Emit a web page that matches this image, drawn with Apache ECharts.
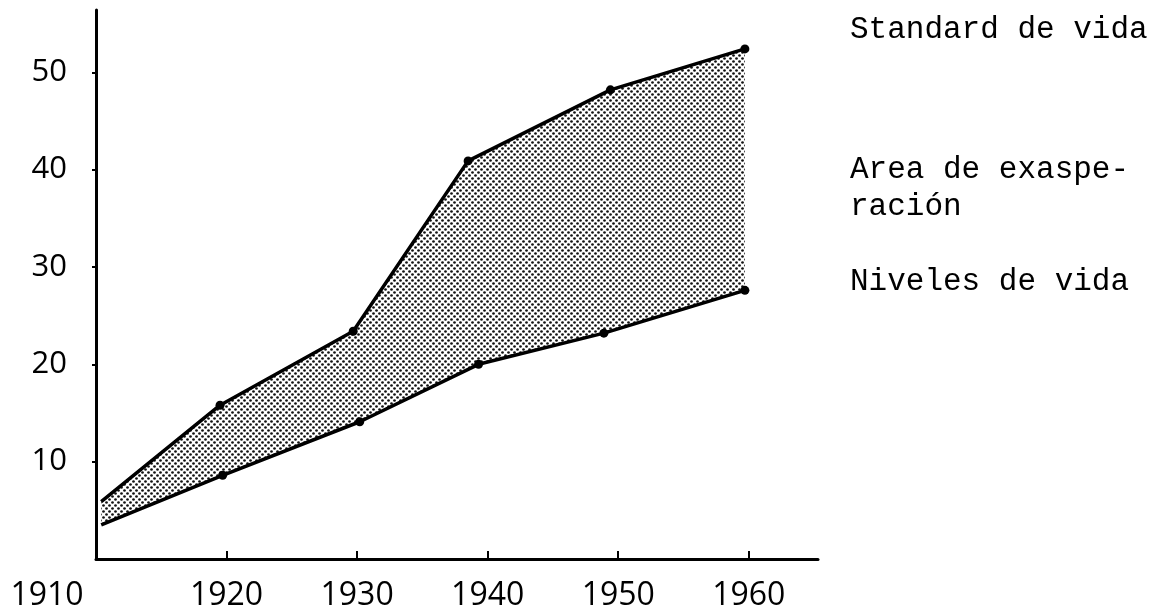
<!DOCTYPE html>
<html>
<head>
<meta charset="utf-8">
<script src="https://cdn.jsdelivr.net/npm/echarts@6/dist/echarts.min.js"></script>
<style>
html,body{margin:0;padding:0;background:#fff;}
#chart{width:1162px;height:615px;}
</style>
</head>
<body>
<div id="chart"></div>
<script>
// ---- data ----
const stdYears   = [1910.4, 1919.5, 1929.7, 1938.5, 1949.4, 1959.7];
const stdValues  = [5.9, 15.8, 23.4, 40.9, 48.2, 52.4];
const nivYears   = [1910.4, 1919.7, 1930.2, 1939.3, 1948.9, 1959.7];
const nivValues  = [3.5, 8.6, 14.1, 20.0, 23.2, 27.6];
const xTickLabels = [1910, 1920, 1930, 1940, 1950, 1960];
const xTickMarks  = [1920, 1930, 1940, 1950, 1960];
const yTickLabels = [10, 20, 30, 40, 50];
const seriesNames = ['Standard de vida', 'Area de exaspe-\nración', 'Niveles de vida'];

const stdData = stdYears.map((y, i) => [y, stdValues[i]]);
const nivData = nivYears.map((y, i) => [y, nivValues[i]]);

// stipple pattern
const pat = document.createElement('canvas');
pat.width = 6; pat.height = 6;
const pc = pat.getContext('2d');
pc.fillStyle = '#111';
[[1.5,1.5],[4.5,4.5]].forEach(p => { pc.beginPath(); pc.arc(p[0], p[1], 1.35, 0, Math.PI*2); pc.fill(); });

const chart = echarts.init(document.getElementById('chart'));
const mono = '"Liberation Mono", "DejaVu Sans Mono", monospace';
const sans = '"Open Sans", "DejaVu Sans", sans-serif';

chart.setOption({
  animation: false,
  backgroundColor: '#ffffff',
  grid: { left: 96, right: 344, top: 10, bottom: 56, containLabel: false },
  xAxis: {
    type: 'value', min: 1910, max: 1965.3,
    axisLine: { show: true, lineStyle: { color: '#000', width: 3 } },
    axisTick: { show: true, inside: true, length: 8, customValues: xTickMarks, lineStyle: { color: '#000', width: 2 } },
    axisLabel: {
      customValues: xTickLabels, margin: 21,
      fontFamily: sans, fontSize: 32, color: '#000',
      formatter: v => v === 1910 ? '{a|1910}' : String(v),
      rich: { a: { fontFamily: sans, fontSize: 32, color: '#000', padding: [0, 98, 0, 0] } }
    },
    splitLine: { show: false }
  },
  yAxis: {
    type: 'value', min: 0, max: 56.4,
    axisLine: { show: true, lineStyle: { color: '#000', width: 3 } },
    axisTick: { show: true, length: 4, customValues: yTickLabels, lineStyle: { color: '#000', width: 2 } },
    axisLabel: { customValues: yTickLabels, margin: 29, fontFamily: sans, fontSize: 31, color: '#000' },
    splitLine: { show: false }
  },
  graphic: [
    { type: 'text', left: 850, top: 14, style: { text: seriesNames[0], font: '31px ' + mono, fill: '#000' } },
    { type: 'text', left: 850, top: 151, style: { text: seriesNames[1], font: '31px ' + mono, fill: '#000', lineHeight: 37 } },
    { type: 'text', left: 850, top: 266, style: { text: seriesNames[2], font: '31px ' + mono, fill: '#000' } }
  ],
  series: [
    {
      type: 'custom',
      name: seriesNames[1],
      data: [0],
      z: 1,
      renderItem: function (params, api) {
        const pts = stdData.map(d => api.coord(d)).concat(nivData.slice().reverse().map(d => api.coord(d)));
        return { type: 'polygon', shape: { points: pts }, style: { fill: { image: pat, repeat: 'repeat' }, stroke: null } };
      }
    },
    {
      type: 'line', name: seriesNames[0], data: stdData, z: 3,
      lineStyle: { color: '#000', width: 3.5 },
      itemStyle: { color: '#000' },
      symbol: 'circle',
      symbolSize: (v, p) => p.dataIndex === 0 ? 0 : 9
    },
    {
      type: 'line', name: seriesNames[2], data: nivData, z: 3,
      lineStyle: { color: '#000', width: 3.5 },
      itemStyle: { color: '#000' },
      symbol: 'circle',
      symbolSize: (v, p) => p.dataIndex === 0 ? 0 : 9
    }
  ]
});
</script>
</body>
</html>
